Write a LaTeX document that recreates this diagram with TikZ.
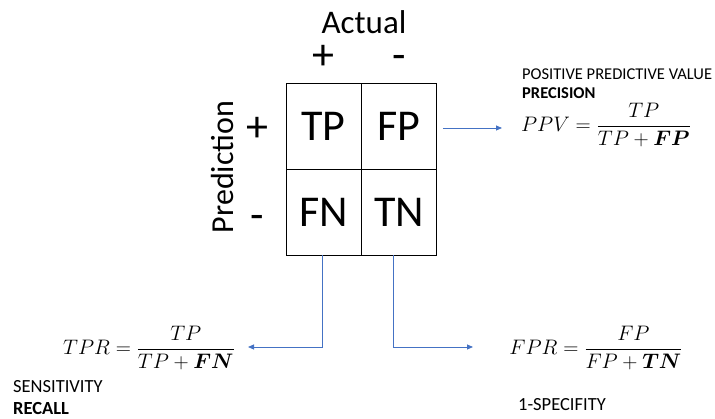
\documentclass[tikz,border=0pt]{standalone}
\usepackage{fix-cm}
\usepackage{fontspec}
\setmainfont{Carlito}
\usepackage{amsmath}
\usepackage{bm}
\usetikzlibrary{arrows.meta}

\begin{document}
\begin{tikzpicture}
[x=1pt,y=-1pt,
  cellDecorate/.style={draw,thick,minimum width=75pt,minimum height=86pt,inner sep=0pt,font=\fontsize{44}{52}\selectfont},%
  headDecorate/.style={inner sep=0pt,font=\fontsize{33}{40}\selectfont},%
  signDecorate/.style={inner sep=0pt,anchor=base,font=\fontsize{44}{52}\selectfont},%
  noteDecorate/.style={inner sep=0pt,anchor=west,font=\fontsize{16.5}{20}\selectfont},%
  formulaDecorate/.style={inner sep=0pt,font=\fontsize{21}{25}\selectfont},%
  arrowDecorate/.style={-{Triangle[length=6pt,width=5pt]},color=linkblue,line width=0.8pt}]
\definecolor{linkblue}{HTML}{4472C4}
\useasboundingbox (0,0) rectangle (715,419);
%% cells of the matrix
\foreach \nodename/\x/\y in {TP/323.5/126, FP/399/126, FN/323.5/212, TN/399/212}
{
  \node (\nodename) at (\x,\y) [cellDecorate] {\nodename};
}
%% headings and signs
\node (actual) at (364,22) [headDecorate] {Actual};
\node (prediction) at (223,167) [headDecorate,font=\fontsize{32}{38}\selectfont,rotate=90] {Prediction};
\foreach \nodename/\x/\y/\sign in {colpos/323/70/+, colneg/399/70/-, rowpos/257/142/+, rowneg/257/230/-}
{
  \node (\nodename) at (\x,\y) [signDecorate] {\sign};
}
%% formulas
\node (ppv) at (606,125) [formulaDecorate] {$PPV=\dfrac{TP}{TP+\bm{FP}}$};
\node (tpr) at (149,348) [formulaDecorate] {$TPR=\dfrac{TP}{TP+\bm{FN}}$};
\node (fpr) at (596,348) [formulaDecorate] {$FPR=\dfrac{FP}{FP+\bm{TN}}$};
%% notes
\node (ppvname) at (522,74) [noteDecorate] {POSITIVE PREDICTIVE VALUE};
\node (precision) at (522,93) [noteDecorate] {\bfseries PRECISION};
\node (sensitivity) at (13,387) [noteDecorate,font=\fontsize{18.5}{22}\selectfont] {SENSITIVITY};
\node (recall) at (13,408) [noteDecorate,font=\fontsize{18.5}{22}\selectfont] {\bfseries RECALL};
\node (specifity) at (562,405) [noteDecorate,font=\fontsize{18.5}{22}\selectfont,anchor=center] {1-SPECIFITY};
%% arrows
\coordinate (ppvin) at (502,128);
\coordinate (tprin) at (248,347);
\coordinate (fprin) at (473,347);
\draw[arrowDecorate] (FP.east) ++(6,2) -- (ppvin);
\draw[arrowDecorate] (FN.south) ++(-1.5,0) |- (tprin);
\draw[arrowDecorate] (TN.south) ++(-6,0) |- (fprin);
\end{tikzpicture}
\end{document}
